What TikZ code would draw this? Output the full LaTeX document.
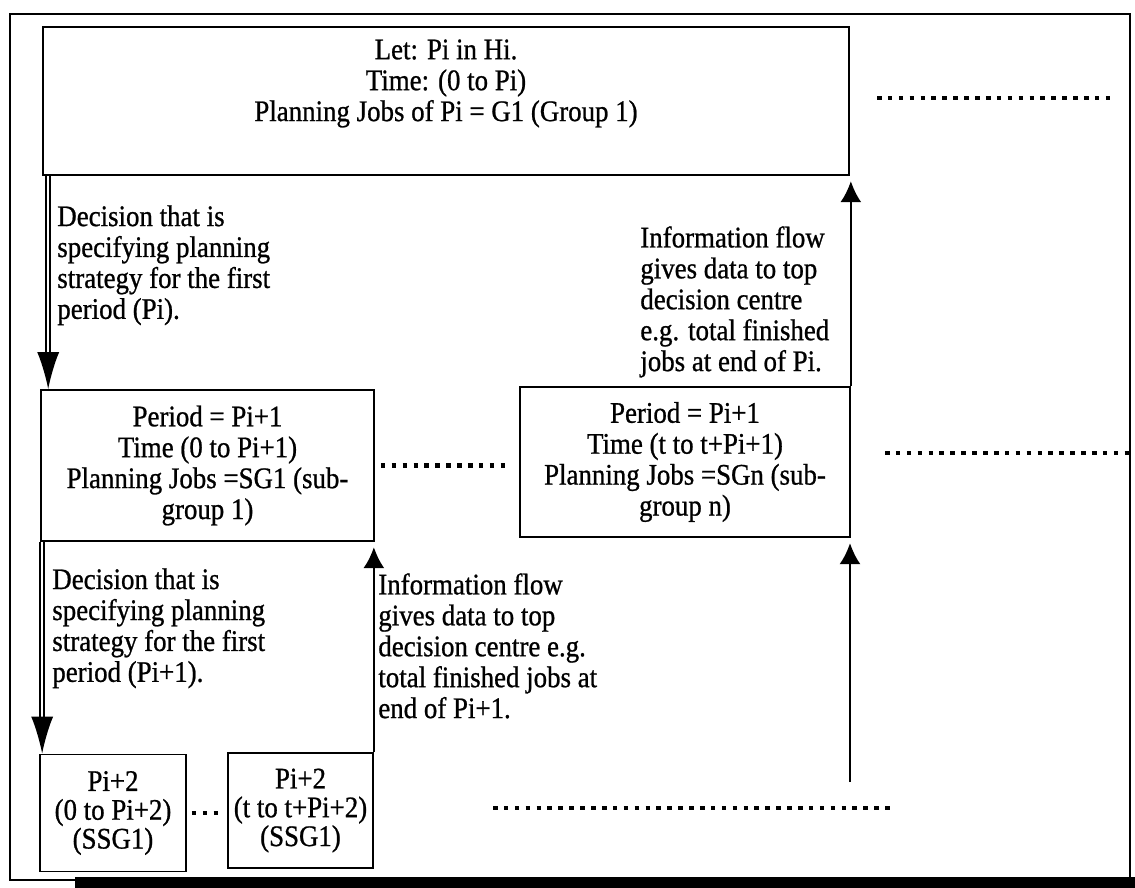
\documentclass[tikz,border=0pt]{standalone}
\usepackage{fontspec}
\setmainfont{Liberation Serif}[FakeStretch=0.9,FakeBold=0.8]
\usetikzlibrary{arrows.meta}

\newcommand*{\txt}{\fontsize{17}{17.6}\selectfont}

\begin{document}
\begin{tikzpicture}
[
	x=0.02cm,y=-0.02cm,
	box/.style={draw,line width=1pt,align=center,inner sep=0pt,font=\txt},
	note/.style={anchor=north west,align=left,inner sep=0pt,font=\txt},
	decision/.style={draw,double,double distance=1.3pt,line width=1pt,-{Latex[length=21pt,width=12.5pt]}},
	info/.style={line width=1.2pt,-{Latex[length=12pt,width=12pt]},shorten >=3pt},
	dots/.style={line width=2.6pt,dash pattern=on 2.6pt off 3.6pt}
]
	\useasboundingbox (0,0) rectangle (1135,888);

	% frame
	\draw[line width=0.8pt] (10,14) rectangle (1130,880);
	\fill (75,877) rectangle (1135,888);

	% planning levels
	\node[box,minimum width=16.12cm,minimum height=2.96cm] (top) at (446,101)
		{Let: Pi in Hi.\\Time: (0 to Pi)\\Planning Jobs of Pi = G1 (Group 1)\\[6pt]};
	\node[box,minimum width=6.66cm,minimum height=3.02cm] (sg1) at (207.5,465.5)
		{Period = Pi+1\\Time (0 to Pi+1)\\Planning Jobs =SG1 (sub-\\group 1)};
	\node[box,minimum width=6.6cm,minimum height=3cm] (sgn) at (685,462)
		{Period = Pi+1\\Time (t to t+Pi+1)\\Planning Jobs =SGn (sub-\\group n)};
	\node[box,minimum width=2.92cm,minimum height=2.34cm,font=\fontsize{17}{16.4}\selectfont] (ssga) at (113,813)
		{Pi+2\\(0 to Pi+2)\\(SSG1)};
	\node[box,minimum width=2.9cm,minimum height=2.3cm,font=\fontsize{17}{16.4}\selectfont] (ssgb) at (300.5,810.5)
		{Pi+2\\(t to t+Pi+2)\\(SSG1)};

	% side notes
	\node[note] (dec1) at (57,205) {Decision that is\\specifying planning\\strategy for the first\\period (Pi).};
	\node[note] (inf1) at (640,226) {Information flow\\gives data to top\\decision centre\\e.g. total finished\\jobs at end of Pi.};
	\node[note] (dec2) at (52,568) {Decision that is\\specifying planning\\strategy for the first\\period (Pi+1).};
	\node[note] (inf2) at (378,573) {Information flow\\gives data to top\\decision centre e.g.\\total finished jobs at\\end of Pi+1.};

	% decisions down
	\draw[decision] ([xshift=0.12cm]top.south west) -- ([xshift=0.12cm]top.south west |- sg1.north);
	\draw[decision] ([xshift=0.04cm]sg1.south west) -- ([xshift=0.04cm]sg1.south west |- ssga.north);

	% information up
	\coordinate (feed) at (850,782);
	\draw[info] (sgn.north east) -- (sgn.north east |- top.south);
	\draw[info] (ssgb.north east) -- (ssgb.north east |- sg1.south);
	\draw[info] (feed) -- (feed |- sgn.south);

	% dots
	\draw[dots] ([xshift=0.12cm]sg1.east) -- ([xshift=-0.22cm]sg1.east -| sgn.west);
	\draw[dots] ([xshift=0.1cm]ssga.east) -- ([xshift=-0.14cm]ssga.east -| ssgb.west);
	\draw[dots] (877,98) -- (1110,98);
	\draw[dots] (885,453) -- (1130,453);
	\draw[dots] (493,808) -- (892,808);

\end{tikzpicture}
\end{document}
